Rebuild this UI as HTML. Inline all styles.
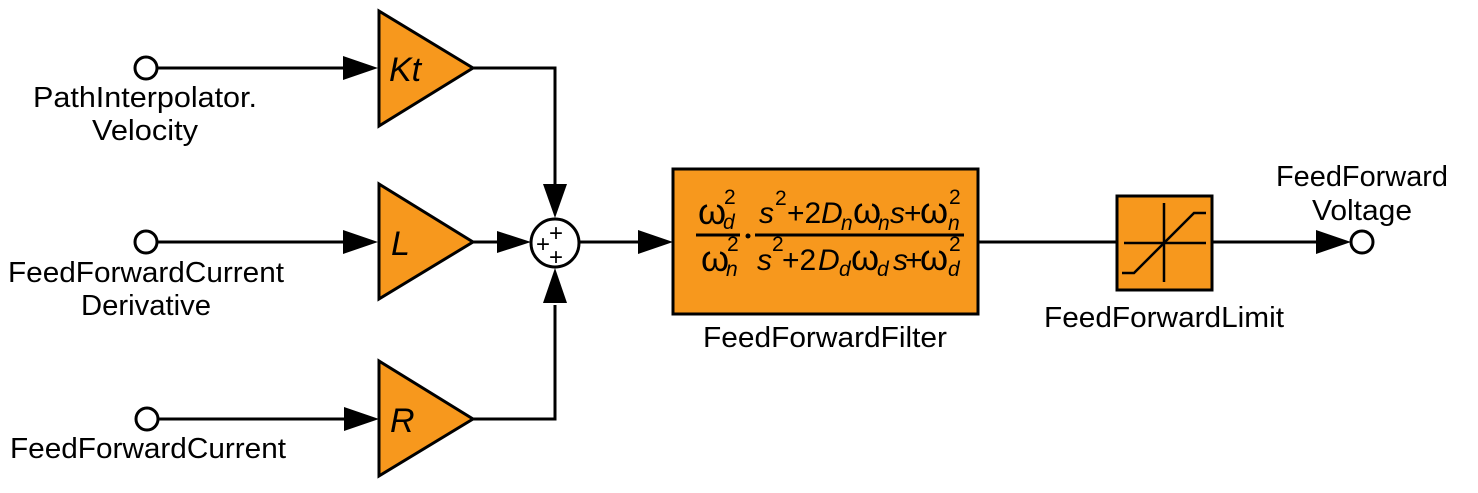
<!DOCTYPE html>
<html><head><meta charset="utf-8"><style>
html,body{margin:0;padding:0;background:#fff;width:1478px;height:493px;overflow:hidden}
svg{display:block}
text{font-family:"Liberation Sans",sans-serif;fill:#000}
.it{font-style:italic}
</style></head><body>
<svg width="1478" height="493" viewBox="0 0 1478 493">
<g stroke="#000" stroke-width="3" fill="none">
  <line x1="157" y1="68" x2="345" y2="68"/>
  <line x1="157" y1="242" x2="345" y2="242"/>
  <line x1="158" y1="419" x2="345" y2="419"/>
  <polyline points="473,68 555,68 555,186"/>
  <line x1="473" y1="242" x2="497" y2="242"/>
  <polyline points="473,419 555,419 555,305"/>
  <line x1="579" y1="242" x2="640" y2="242"/>
  <line x1="978" y1="242" x2="1117" y2="242"/>
  <line x1="1212" y1="242" x2="1318" y2="242"/>
</g>
<g fill="#000">
  <polygon points="343,56 378,68 343,80"/>
  <polygon points="343,230 378,242 343,254"/>
  <polygon points="344,407 379,419 344,431"/>
  <polygon points="543,184 555,218 567,184"/>
  <polygon points="497,231 531,242 497,253"/>
  <polygon points="543,303 555,268 567,303"/>
  <polygon points="638,230 673,242 638,254"/>
  <polygon points="1316,230 1351,242 1316,254"/>
</g>
<g fill="#fff" stroke="#000" stroke-width="3">
  <circle cx="146" cy="68" r="11"/>
  <circle cx="146" cy="242" r="11"/>
  <circle cx="147" cy="419" r="11"/>
  <circle cx="1362" cy="242" r="11"/>
  <circle cx="555" cy="243" r="24"/>
</g>
<g fill="#F7981D" stroke="#000" stroke-width="3">
  <polygon points="379,11 379,126 473,68"/>
  <polygon points="379,184 379,299 473,242"/>
  <polygon points="379,361 379,476 473,419"/>
  <rect x="673" y="169" width="305" height="145"/>
  <rect x="1117" y="196" width="95" height="94"/>
</g>
<text x="389" y="81" class="it" font-size="34">Kt</text>
<text x="391" y="255" class="it" font-size="34">L</text>
<text x="390" y="432" class="it" font-size="34">R</text>
<g font-size="24" text-anchor="middle">
  <text x="556" y="241">+</text><text x="543" y="252">+</text><text x="556" y="265">+</text>
</g>
<g font-size="30">
  <text x="698" y="224" font-size="36">ω</text><text x="724" y="204" font-size="21">2</text><text x="723" y="229" font-size="21" class="it">d</text>
  <line x1="696" y1="235" x2="740" y2="235" stroke="#000" stroke-width="3"/>
  <text x="701" y="271" font-size="36">ω</text><text x="727" y="251" font-size="21">2</text><text x="726" y="276" font-size="21" class="it">n</text>
  <circle cx="748" cy="236" r="2.5" fill="#000"/>
  <line x1="755" y1="235" x2="964" y2="235" stroke="#000" stroke-width="3"/>
  <text x="759" y="223" class="it">s</text><text x="775" y="205" font-size="21">2</text>
  <text x="787" y="223">+2</text><text x="821" y="223" class="it">D</text><text x="841" y="230" font-size="21" class="it">n</text>
  <text x="853" y="223" font-size="36">ω</text><text x="878" y="230" font-size="21" class="it">n</text><text x="890" y="223" class="it">s</text>
  <text x="904" y="223">+</text><text x="920" y="223" font-size="36">ω</text><text x="949" y="204" font-size="21">2</text><text x="948" y="230" font-size="21" class="it">n</text>
  <text x="757" y="270" class="it">s</text><text x="772" y="251" font-size="21">2</text>
  <text x="782" y="270">+2</text><text x="818" y="270" class="it">D</text><text x="839" y="276" font-size="21" class="it">d</text>
  <text x="851" y="270" font-size="36">ω</text><text x="877" y="276" font-size="21" class="it">d</text><text x="893" y="270" class="it">s</text>
  <text x="905" y="270">+</text><text x="920" y="270" font-size="36">ω</text><text x="949" y="251" font-size="21">2</text><text x="948" y="276" font-size="21" class="it">d</text>
</g>
<g stroke="#000" stroke-width="2.5" fill="none">
  <line x1="1164" y1="203" x2="1164" y2="282"/>
  <line x1="1124" y1="243" x2="1206" y2="243"/>
  <polyline points="1122,273 1134,273 1194,213 1206,213"/>
</g>
<g text-anchor="middle">
  <text x="145" y="107" font-size="29" textLength="224" lengthAdjust="spacingAndGlyphs">PathInterpolator.</text>
  <text x="145" y="140" font-size="29" textLength="106" lengthAdjust="spacingAndGlyphs">Velocity</text>
  <text x="146" y="282" font-size="29" textLength="276" lengthAdjust="spacingAndGlyphs">FeedForwardCurrent</text>
  <text x="146" y="315" font-size="29" textLength="130" lengthAdjust="spacingAndGlyphs">Derivative</text>
  <text x="148" y="458" font-size="29" textLength="276" lengthAdjust="spacingAndGlyphs">FeedForwardCurrent</text>
  <text x="825" y="347" font-size="29" textLength="244" lengthAdjust="spacingAndGlyphs">FeedForwardFilter</text>
  <text x="1164" y="327" font-size="29" textLength="240" lengthAdjust="spacingAndGlyphs">FeedForwardLimit</text>
  <text x="1362" y="186" font-size="29" textLength="172" lengthAdjust="spacingAndGlyphs">FeedForward</text>
  <text x="1362" y="220" font-size="29" textLength="100" lengthAdjust="spacingAndGlyphs">Voltage</text>
</g>
</svg>
</body></html>
